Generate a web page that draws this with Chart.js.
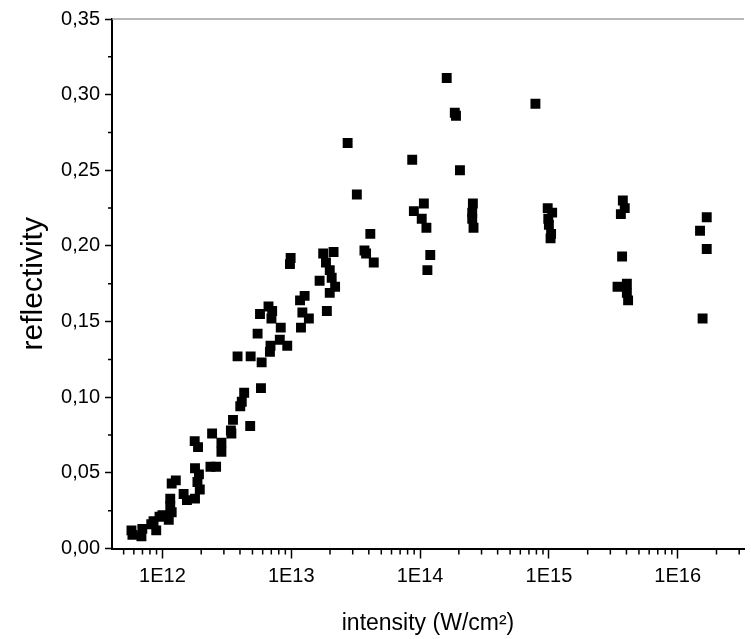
<!DOCTYPE html>
<html>
<head>
<meta charset="utf-8">
<script src="https://cdn.jsdelivr.net/npm/chart.js@4.4.1/dist/chart.umd.min.js"></script>
<style>
  html, body { margin: 0; padding: 0; background: #fff; }
  canvas { display: block; }
</style>
</head>
<body>
<canvas id="scatterChart" width="751" height="639"></canvas>
<script>
// values: intensity in W/cm2, reflectivity
const intensity = [
    5.75e11, 5.85e11, 6.98e11, 6.87e11, 8.19e11, 8.53e11, 8.95e11, 9.49e11, 1.0e12, 1.12e12,
    1.18e12, 1.15e12, 1.15e12, 1.18e12, 1.27e12, 1.46e12, 1.55e12, 1.79e12, 1.95e12, 1.87e12,
    1.92e12, 1.79e12, 2.36e12, 2.61e12, 1.78e12, 1.89e12, 2.43e12, 2.87e12, 2.87e12, 3.43e12,
    3.40e12, 3.53e12, 4.80e12, 4.02e12, 4.13e12, 4.31e12, 5.82e12, 3.83e12, 4.84e12, 5.89e12,
    5.48e12, 5.72e12, 6.66e12, 7.11e12, 7.02e12, 8.29e12, 6.90e12, 6.83e12, 8.15e12, 9.31e12,
    9.89e12, 9.77e12, 1.17e13, 1.27e13, 1.22e13, 1.37e13, 1.19e13, 1.77e13, 2.13e13, 1.86e13,
    1.99e13, 2.06e13, 2.19e13, 1.66e13, 1.99e13, 1.89e13, 2.74e13, 3.23e13, 4.11e13, 3.70e13,
    3.81e13, 4.37e13, 8.69e13, 1.07e14, 8.95e13, 1.03e14, 1.12e14, 1.20e14, 1.14e14, 1.61e14,
    1.86e14, 1.90e14, 2.04e14, 2.57e14, 2.54e14, 2.54e14, 2.60e14, 7.86e14, 9.79e14, 1.06e15,
    9.89e14, 1.0e15, 1.04e15, 1.03e15, 3.75e15, 3.88e15, 3.62e15, 3.70e15, 4.03e15, 3.41e15,
    4.03e15, 4.12e15, 1.68e16, 1.49e16, 1.68e16, 1.56e16
];
const reflectivity = [
    0.012, 0.009, 0.013, 0.008, 0.016, 0.018, 0.012, 0.021, 0.022, 0.019,
    0.024, 0.028, 0.033, 0.043, 0.045, 0.036, 0.032, 0.033, 0.039, 0.044,
    0.049, 0.053, 0.054, 0.054, 0.071, 0.067, 0.076, 0.064, 0.070, 0.076,
    0.078, 0.085, 0.081, 0.094, 0.097, 0.103, 0.106, 0.127, 0.127, 0.123,
    0.142, 0.155, 0.160, 0.157, 0.152, 0.146, 0.134, 0.130, 0.138, 0.134,
    0.192, 0.188, 0.164, 0.167, 0.156, 0.152, 0.146, 0.195, 0.196, 0.189,
    0.184, 0.179, 0.173, 0.177, 0.169, 0.157, 0.268, 0.234, 0.208, 0.197,
    0.195, 0.189, 0.257, 0.228, 0.223, 0.218, 0.212, 0.194, 0.184, 0.311,
    0.288, 0.286, 0.250, 0.228, 0.222, 0.218, 0.212, 0.294, 0.225, 0.222,
    0.218, 0.214, 0.208, 0.205, 0.230, 0.225, 0.221, 0.193, 0.175, 0.173,
    0.169, 0.164, 0.219, 0.210, 0.198, 0.152
];

const xTickValues = [1e12, 1e13, 1e14, 1e15, 1e16];
const xTickLabels = ['1E12', '1E13', '1E14', '1E15', '1E16'];
const yTickValues = [0, 0.05, 0.10, 0.15, 0.20, 0.25, 0.30, 0.35];
const yTickLabels = ['0,00', '0,05', '0,10', '0,15', '0,20', '0,25', '0,30', '0,35'];

// minor ticks (2..9 per decade on x, half steps on y) + grey top frame line
const axisDecor = {
    id: 'axisDecor',
    afterDraw(chart) {
        const { ctx, chartArea, scales } = chart;
        const x = scales.x, y = scales.y;
        ctx.save();
        ctx.strokeStyle = '#000';
        ctx.lineWidth = 1.5;
        ctx.beginPath();
        for (let d = 11; d <= 16; d++) {
            for (let m = 2; m <= 9; m++) {
                const v = m * Math.pow(10, d);
                if (v < x.min || v > x.max) continue;
                const px = x.getPixelForValue(v);
                ctx.moveTo(px, chartArea.bottom);
                ctx.lineTo(px, chartArea.bottom + 6);
            }
        }
        for (let i = 0; i < yTickValues.length - 1; i++) {
            const py = y.getPixelForValue((yTickValues[i] + yTickValues[i + 1]) / 2);
            ctx.moveTo(chartArea.left - 4, py);
            ctx.lineTo(chartArea.left, py);
        }
        ctx.stroke();
        ctx.strokeStyle = '#a0a0a0';
        ctx.beginPath();
        ctx.moveTo(chartArea.left, chartArea.top);
        ctx.lineTo(chartArea.right, chartArea.top);
        ctx.stroke();
        ctx.restore();
    }
};

Chart.defaults.font.family = "'Liberation Sans', Arial, sans-serif";
Chart.defaults.color = '#000';

const ctx = document.getElementById('scatterChart').getContext('2d');
const chart = new Chart(ctx, {
    type: 'scatter',
    data: {
        datasets: [{
            label: 'reflectivity',
            data: intensity.map((v, i) => ({ x: v, y: reflectivity[i] })),
            pointStyle: 'rect',
            pointRadius: 7,
            pointHoverRadius: 7,
            borderWidth: 0,
            backgroundColor: '#000',
            borderColor: '#000'
        }]
    },
    options: {
        responsive: false,
        animation: false,
        layout: { padding: { top: 19, right: 0, left: 0, bottom: 0 } },
        plugins: {
            legend: { display: false },
            tooltip: { enabled: false }
        },
        scales: {
            x: {
                type: 'logarithmic',
                position: 'bottom',
                min: 4.06e11,
                max: 3.27e16,
                afterBuildTicks: s => { s.ticks = xTickValues.map(v => ({ value: v })); },
                afterFit: s => { s.height = 90.5; },
                grid: { drawOnChartArea: false, drawTicks: true, tickLength: 10, tickColor: '#000', tickWidth: 1.5 },
                border: { display: true, color: '#000', width: 2 },
                ticks: {
                    autoSkip: false, maxRotation: 0, padding: 6,
                    font: { size: 20 },
                    callback: (v, i) => xTickLabels[i]
                },
                title: {
                    display: true, text: 'intensity (W/cm²)',
                    font: { size: 23 }, padding: { top: 0, bottom: 2 }
                }
            },
            y: {
                min: 0,
                max: 0.35,
                afterBuildTicks: s => { s.ticks = yTickValues.map(v => ({ value: v })); },
                afterFit: s => { s.width = 112; },
                grid: { drawOnChartArea: false, drawTicks: true, tickLength: 7, tickColor: '#000', tickWidth: 1.5 },
                border: { display: true, color: '#000', width: 2 },
                ticks: {
                    padding: 5,
                    font: { size: 20 },
                    callback: (v, i) => yTickLabels[i]
                },
                title: {
                    display: true, text: 'reflectivity',
                    font: { size: 30 }, padding: { top: 16, bottom: 0 }
                }
            }
        }
    },
    plugins: [axisDecor]
});
</script>
</body>
</html>
